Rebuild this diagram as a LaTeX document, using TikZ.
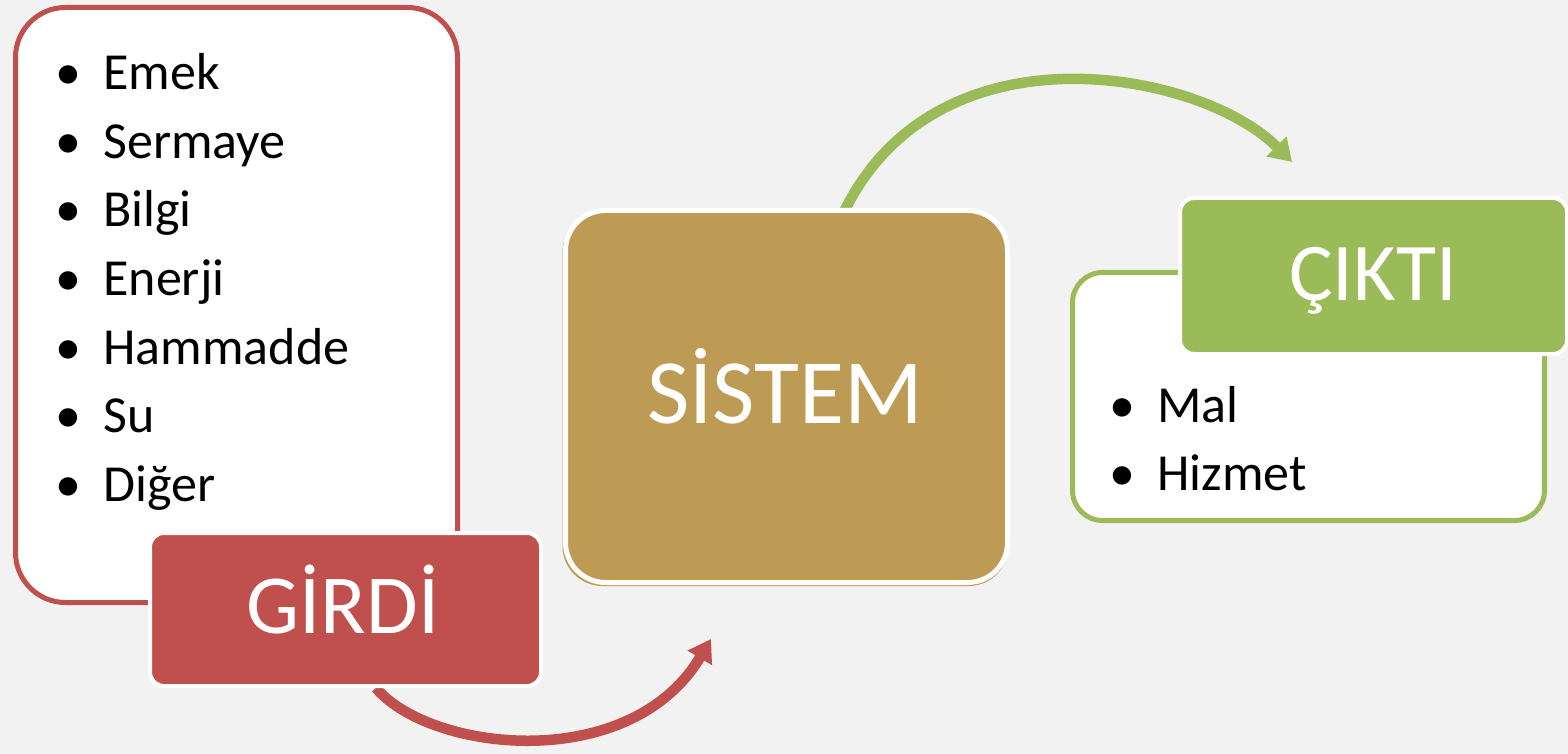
\documentclass[tikz,border=0pt]{standalone}
\usepackage{fontspec}
\setmainfont{Carlito}
\usetikzlibrary{arrows.meta}
\definecolor{cred}{RGB}{192,80,77}
\definecolor{cgreen}{RGB}{155,187,89}
\definecolor{cgold}{RGB}{190,155,84}
\definecolor{cbg}{RGB}{242,242,242}
\begin{document}
\begin{tikzpicture}[x=0.5pt,y=-0.5pt,
  listbox/.style={draw, line width=2.5pt, fill=white, rounded corners=#1, inner sep=0pt},
  tagbox/.style={draw=white, line width=2pt, inner sep=0pt},
  item/.style={anchor=base west, inner sep=0pt, font=\fontsize{26pt}{30pt}\selectfont},
  tag/.style={anchor=base, inner sep=0pt, text=white},
  conn/.style={line width=5.25pt, -{Triangle[length=11pt,width=13.5pt]}}]
\fill[cbg] (0,0) rectangle (1568,754);
\useasboundingbox (0,0) rectangle (1568,754);

% input list
\node[listbox=25pt, draw=cred, minimum width=221pt, minimum height=297.5pt] (inbox) at (236.5,305) {};
\foreach \t [count=\i from 0] in {Emek,Sermaye,Bilgi,Enerji,Hammadde,Su,Diğer}
  \node[item] (in\i) at (55,90+68.5*\i) {\makebox[24pt][l]{\textbullet}\t};

% red connector
\coordinate (rs) at (376,688);
\coordinate (re) at (711,639);
\draw[conn, cred] (rs) .. controls (430,752) and (630,775) .. (re);

% GIRDI
\node[tagbox, fill=cred, rounded corners=7pt, minimum width=195.5pt, minimum height=76.5pt] (girdi) at (345.5,609.5) {};
\node[tag, font=\fontsize{42pt}{42pt}\selectfont] (girdiT) at (343,633) {GİRDİ};

% green connector
\coordinate (gs) at (843,214);
\coordinate (ge) at (1292,162);
\draw[conn, cgreen] (gs) .. controls (935,20) and (1200,70) .. (ge);

% SISTEM
\node[fill=cgold, rounded corners=20pt, inner sep=0pt, minimum width=223pt, minimum height=187pt] (sysshadow) at (785.5,399) {};
\node[tagbox, fill=cgold, line width=2.5pt, rounded corners=20pt, minimum width=221pt, minimum height=186pt] (sistem) at (786.5,396.5) {};
\node[tag, font=\fontsize{46pt}{46pt}\selectfont] (sistemT) at (785,423) {SİSTEM};

% output list
\node[listbox=15pt, draw=cgreen, minimum width=236pt, minimum height=124pt] (outbox) at (1308.5,396.5) {};
\node[item] (out0) at (1109,422) {\makebox[24pt][l]{\textbullet}Mal};
\node[item] (out1) at (1109,490) {\makebox[24pt][l]{\textbullet}Hizmet};

% CIKTI
\node[tagbox, fill=cgreen, rounded corners=7pt, minimum width=193.5pt, minimum height=78pt] (cikti) at (1373.5,276) {};
\node[tag, font=\fontsize{41pt}{41pt}\selectfont] (ciktiT) at (1373,300) {ÇIKTI};
\end{tikzpicture}
\end{document}
